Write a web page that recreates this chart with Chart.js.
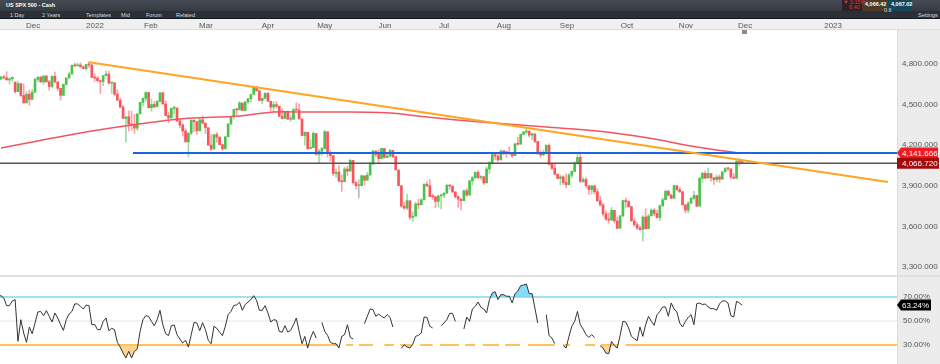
<!DOCTYPE html>
<html lang="en">
<head>
<meta charset="UTF-8" />
<title>US SPX 500 - Cash</title>
<script src="https://cdn.jsdelivr.net/npm/chart.js"></script>
<style>
    html, body { margin: 0; padding: 0; background: #fff; overflow: hidden; }
    body { width: 940px; height: 364px; position: relative; font-family: "Liberation Sans", Arial, sans-serif; }
    .box { position: absolute; }
    #chart { position: absolute; left: 0; top: 0; z-index: 2; }
    #tabs { left: 0; top: 0; width: 940px; height: 11px; background: linear-gradient(#454b54, #363b42); z-index: 3; }
    #tools { left: 0; top: 11px; width: 940px; height: 7px; background: #2b3036; z-index: 3; border-bottom: 1px solid #16191c; }
    #dateBand { left: 0; top: 19px; width: 940px; height: 10px; background: #f0f0f0; border-bottom: 1px solid #dcdcdc; }
    #rightPanel { left: 897px; top: 30px; width: 43px; height: 334px; background: #ececec; border-left: 1px solid #dcdcdc; box-sizing: border-box; }
    #paneLine { left: 0; top: 275px; width: 940px; height: 2px; background: #e0e0e0; }
    .t { position: absolute; font-size: 5.5px; line-height: 7px; color: #d4dae0; white-space: nowrap; z-index: 4; }
    #homeMark { left: 742px; top: 30px; width: 5px; height: 4px; background: #8b8b8b; z-index: 3; }
</style>
</head>
<body>
    <div class="box" id="tabs"></div>
    <div class="box" id="tools"></div>
    <div class="box" id="dateBand"></div>
    <div class="box" id="rightPanel"></div>
    <div class="box" id="paneLine"></div>
    <div class="box" id="homeMark"></div>

    <span class="t" style="left:6px;top:2px;color:#fff;font-weight:bold;">US SPX 500 - Cash</span>
    <span class="t" style="left:10px;top:11.5px;">1 Day</span>
    <span class="t" style="left:42px;top:11.5px;">2 Years</span>
    <span class="t" style="left:86px;top:11.5px;">Templates</span>
    <span class="t" style="left:121px;top:11.5px;">Mid</span>
    <span class="t" style="left:146px;top:11.5px;">Forum</span>
    <span class="t" style="left:176px;top:11.5px;">Related</span>
    <span class="box" style="left:842px;top:0;width:20px;height:11px;background:#2c2226;z-index:3;"></span>
    <span class="t" style="left:843px;top:0;color:#e2333b;line-height:5px;">▼ 0.15%<br>&nbsp;&nbsp;&nbsp;&nbsp;6.40</span>
    <span class="box" style="left:862px;top:0;width:26px;height:11px;background:#4c3a26;z-index:3;"></span>
    <span class="t" style="left:865px;top:1px;color:#fff;font-weight:bold;">4,066.42</span>
    <span class="box" style="left:888px;top:0;width:24px;height:11px;background:#174656;z-index:3;"></span>
    <span class="t" style="left:891px;top:1px;color:#fff;font-weight:bold;">4,067.02</span>
    <span class="t" style="left:884px;top:7px;">0.6</span>
    <span class="t" style="left:918px;top:11.5px;">Settings</span>

    <canvas id="chart" width="940" height="364"></canvas>

    <script>
        // daily candles, one row per month (Nov 2021 to Dec 2022)
        const opens = [
            4680,4688,4704,4698,4682,4690,4664,4595,4655,
            4567,4513,4577,4538,4591,4686,4701,4667,4712,4668,4634,4709,4668,4620,4568,4649,4696,4725,4791,4786,4793,4778,
            4766,4796,4793,4700,4696,4677,4670,4713,4726,4659,4662,4577,4532,4482,4398,4410,4356,4350,4326,4431,
            4516,4546,4589,4477,4501,4484,4522,4587,4504,4419,4401,4472,4475,4380,4349,4305,4225,4289,4385,
            4374,4306,4387,4363,4329,4201,4171,4278,4260,4204,4173,4262,4357,4412,4463,4461,4512,4456,4520,4543,4575,4632,4602,
            4530,4546,4583,4525,4481,4500,4488,4413,4397,4447,4392,4392,4462,4459,4394,4272,4296,4175,4183,4287,
            4132,4155,4175,4300,4147,4123,3991,4001,3935,3930,4024,4008,4088,3923,3901,3901,3974,3941,3979,4058,4158,
            4132,4101,4176,4109,4121,4161,4116,4018,3901,3750,3735,3790,3667,3675,3765,3760,3796,3912,3900,3821,3819,
            3785,3825,3831,3845,3903,3899,3855,3819,3802,3790,3863,3831,3937,3960,3999,3961,3967,3921,4024,4072,
            4130,4119,4091,4155,4152,4145,4140,4122,4210,4207,4280,4297,4305,4274,4284,4228,4138,4128,4141,4199,4058,4030,3986,
            3955,3966,3924,3908,3979,4006,4067,4110,3932,3946,3901,3873,3899,3856,3789,3758,3693,3655,3647,3719,3641,
            3586,3678,3791,3783,3745,3640,3612,3589,3577,3669,3583,3677,3720,3695,3666,3752,3797,3859,3830,3807,3901,
            3872,3856,3760,3720,3771,3807,3828,3749,3956,3992,3957,3991,3959,3946,3965,3949,4003,4027,4026,3964,3957,
            4080,4076
        ];
        const closes = [
            4688,4704,4698,4682,4690,4701,4595,4655,4567,
            4513,4577,4538,4591,4686,4701,4667,4712,4668,4634,4709,4668,4620,4568,4649,4696,4725,4791,4786,4793,4778,4766,
            4796,4793,4700,4696,4677,4670,4713,4726,4659,4662,4577,4532,4482,4398,4410,4356,4350,4326,4431,4516,
            4546,4589,4477,4501,4484,4522,4587,4504,4419,4401,4472,4475,4380,4349,4305,4225,4289,4385,4374,
            4306,4387,4363,4329,4201,4171,4278,4260,4204,4173,4262,4357,4412,4463,4461,4512,4456,4520,4543,4575,4632,4602,4530,
            4546,4583,4525,4481,4500,4488,4413,4397,4447,4392,4392,4462,4459,4394,4272,4296,4175,4183,4287,4132,
            4155,4175,4300,4147,4123,3991,4001,3935,3930,4024,4008,4088,3923,3901,3901,3974,3941,3979,4058,4158,4132,
            4101,4176,4109,4121,4161,4116,4018,3901,3750,3735,3790,3667,3675,3765,3760,3796,3912,3900,3821,3819,3785,
            3825,3831,3845,3903,3899,3855,3819,3802,3790,3863,3831,3937,3960,3999,3961,3967,3921,4024,4072,4130,
            4119,4091,4155,4152,4145,4140,4122,4210,4207,4280,4297,4305,4274,4284,4228,4138,4128,4141,4199,4058,4030,3986,3955,
            3966,3924,3908,3979,4006,4067,4110,3932,3946,3901,3873,3899,3856,3789,3758,3693,3655,3647,3719,3641,3586,
            3678,3791,3783,3745,3640,3612,3589,3577,3669,3583,3677,3720,3695,3666,3752,3797,3859,3830,3807,3901,3872,
            3856,3760,3720,3771,3807,3828,3749,3956,3992,3957,3991,3959,3946,3965,3949,4003,4027,4026,3964,3957,4080,
            4076,4071
        ];
        const highs = [
            4702,4708,4717,4743,4701,4704,4670,4672,4646,
            4652,4596,4608,4612,4695,4708,4710,4713,4711,4679,4713,4741,4666,4620,4651,4701,4741,4791,4808,4805,4808,4787,
            4797,4818,4797,4726,4707,4674,4715,4749,4745,4666,4632,4611,4548,4495,4414,4454,4453,4428,4432,4517,
            4550,4596,4590,4540,4522,4531,4590,4589,4527,4445,4473,4490,4475,4394,4363,4323,4290,4385,4385,
            4374,4401,4416,4364,4329,4276,4278,4294,4259,4208,4263,4358,4413,4465,4471,4522,4500,4521,4547,4576,4638,4627,4603,
            4549,4588,4590,4522,4522,4522,4488,4471,4450,4453,4420,4471,4513,4506,4370,4299,4278,4240,4300,4270,
            4169,4185,4308,4270,4159,4082,4026,4050,3980,4039,4048,4095,4078,3932,3944,3982,3971,3999,4076,4159,4150,
            4167,4178,4143,4144,4169,4160,4060,4000,3812,3778,3838,3785,3707,3780,3802,3806,3914,3932,3944,3839,3820,
            3830,3840,3850,3910,3907,3888,3855,3829,3802,3870,3880,3939,3970,4003,4013,3975,3970,4040,4078,4140,
            4145,4130,4167,4161,4152,4187,4133,4211,4258,4281,4303,4326,4302,4291,4276,4180,4160,4165,4204,4210,4060,4060,3985,
            3980,3975,3990,3990,4012,4077,4135,4149,3960,3960,3880,3900,3905,3880,3820,3770,3715,3700,3740,3700,3670,
            3680,3795,3810,3790,3750,3660,3630,3600,3680,3730,3690,3730,3730,3720,3760,3810,3870,3870,3840,3905,3900,
            3890,3860,3755,3785,3815,3860,3830,3960,4000,4010,4030,3980,3960,3980,3980,4005,4035,4035,4010,3990,4095,
            4100,4078
        ];
        const lows = [
            4682,4682,4688,4681,4652,4670,4585,4637,4560,
            4510,4511,4495,4546,4591,4670,4667,4650,4666,4606,4624,4660,4600,4532,4570,4645,4700,4733,4780,4788,4775,4765,
            4755,4775,4700,4671,4666,4582,4640,4714,4650,4582,4565,4530,4475,4396,4222,4305,4309,4287,4309,4431,
            4490,4525,4474,4451,4475,4485,4522,4505,4417,4365,4415,4430,4372,4327,4267,4222,4114,4278,4300,
            4279,4306,4356,4285,4199,4157,4205,4221,4201,4161,4179,4307,4352,4393,4427,4470,4455,4470,4508,4518,4590,4599,4530,
            4507,4547,4521,4456,4450,4474,4411,4395,4400,4390,4377,4391,4459,4394,4269,4200,4170,4175,4181,4128,
            4063,4124,4175,4112,4081,3975,3964,3928,3859,3964,3976,4032,3912,3877,3810,3900,3907,3943,3980,4074,4116,
            4074,4106,4107,4108,4110,4108,4018,3900,3740,3728,3724,3650,3636,3686,3730,3763,3798,3894,3820,3800,3738,
            3745,3730,3810,3845,3875,3850,3810,3740,3722,3820,3825,3860,3905,3950,3950,3945,3910,3925,3990,4060,
            4095,4080,4092,4130,4110,4130,4110,4150,4200,4220,4275,4285,4260,4240,4218,4130,4110,4120,4150,4055,4020,3980,3950,
            3905,3910,3885,3945,3960,4005,4060,3925,3925,3885,3837,3840,3840,3785,3750,3675,3645,3625,3640,3625,3585,
            3585,3670,3740,3745,3640,3600,3575,3570,3491,3580,3610,3680,3680,3660,3640,3750,3795,3825,3805,3810,3865,
            3850,3755,3700,3700,3770,3800,3745,3750,3925,3950,3960,3935,3910,3930,3925,3950,4005,4010,3955,3950,3950,
            4050,4066
        ];

        // RSI per bar, null where the line is broken in the picture
        const rsi = [
            71,71.1,69.2,62.8,62.8,66.7,67.8,33.1,51.1,40,
            32.2,45,39.4,48.3,57.5,58,54.4,58.6,53.9,49.2,
            56.7,52.5,46.9,42.2,51.1,55.8,58,64.2,64.2,62.2,
            60,63.3,62.8,46.9,47.2,42.8,42.8,49.7,52.5,41.9,
            43.9,42.8,32.2,28.3,23.3,19.2,24.7,19.2,24.7,26.7,
            41.4,51.1,54.4,53.9,49.7,46.1,51.1,58.9,46.9,39.4,
            37.8,46.1,46.7,38.6,35,31.7,33.9,28.3,38.6,48.9,
            48.3,41.9,48.6,42.8,33.9,31.1,45.6,43.9,40.6,37.8,
            45.6,55.3,58,63,63.3,65.6,58.9,63.6,65.8,67.8,
            71.1,67.2,58.9,58.9,62.8,56.7,49.2,51.1,50.6,41.4,
            40.6,46.1,40.8,42.2,46.9,52.5,41.4,31.1,37.2,27.5,
            35.8,41.4,35.8,null,48.9,41.4,38.1,32.2,31.1,31.1,
            27.5,37.2,38.6,46.9,36.4,35,null,null,null,47.8,
            53.9,60,59.4,53.9,55.8,53.9,52.5,55.3,53,45,
            null,null,27.2,30.3,28.3,27.5,30.6,37.2,38.1,40,
            53.3,53,45.6,44.2,null,null,46.1,48.3,51.1,56.4,
            56.4,49.7,null,null,43.3,53.3,49.7,60,62.2,65.8,
            61.4,60,56.7,67.8,73.3,74.4,67.8,71.9,71.9,70.6,
            70.6,65,72.8,75,79.4,80,80.8,72.8,72.8,60.8,
            48.3,null,null,55.3,37.8,35.8,31.1,null,null,29.4,
            27.5,37.2,45.6,49.7,58,46.9,43.3,38.6,36.4,38.6,
            36.4,null,29.4,27.5,23.3,22.8,33,29.4,27.5,37.8,
            49.7,49.2,44.2,37.2,35.3,33.6,45,37.2,46.9,53.9,
            49.7,46.4,55.3,58,61.7,61.7,53.9,65,60,57.5,
            48.3,45,49.7,53,55.3,46.9,64.4,65,63.6,64.2,
            61.7,60.3,60.3,58.9,64.2,66.7,66.7,65,54.4,53.3,
            66.4,65,63.24
        ];

        // long moving average, read at a few bars
        const maBars = [1, 29, 47, 64, 85, 97, 109, 120, 138, 151, 170, 193, 211, 229, 246, 261];
        const maValues = [4179, 4290, 4349, 4394, 4416, 4445, 4445, 4445, 4438, 4408, 4371, 4334, 4305, 4253, 4187, 4142];

        // drawn lines
        const trendBars = [32, 313.3];
        const trendValues = [4812, 3928];
        const supportBars = [47.5, 316.5];
        const supportValue = 4141.666;
        const lastPrice = 4066.72;
        const lastRsi = 63.24;

        // 30% band is only partly visible in the picture
        const dashStart = [0.7, 122.5, 127, 136, 141.5, 148.6, 155.6, 164.4, 170.7, 178.5, 186.6, 198.9, 206.6, 212.3, 221];
        const dashEnd = [119.7, 125, 132, 139.4, 146, 153, 162.3, 168, 176.4, 183.8, 196, 201.4, 210.2, 218.3, 316.5];

        const monthLabels = ["Dec", "2022", "Feb", "Mar", "Apr", "May", "Jun", "Jul", "Aug", "Sep", "Oct", "Nov", "Dec", "2023"];
        const monthBars = [12.3, 34.1, 53.8, 73.2, 95, 115, 136.2, 157, 178.1, 200.3, 221.4, 242.2, 263, 294];
        const priceTicks = [3300, 3600, 3900, 4200, 4500, 4800];
        const rsiTicks = [30, 50, 70];

        const GREEN = "#4cc24c";
        const RED = "#f9565c";
        const GREEN_WICK = "rgba(76,194,76,0.55)";
        const RED_WICK = "rgba(249,86,92,0.55)";
        const xMin = 0.67, xMax = 316.5;

        const barColors = closes.map((c, i) => c === opens[i] ? "#999" : (c > opens[i] ? GREEN : RED));
        const wickColors = closes.map((c, i) => c === opens[i] ? "#bbb" : (c > opens[i] ? GREEN_WICK : RED_WICK));
        const wickData = lows.map((l, i) => ({ x: i, y: [l, highs[i]] }));
        const bodyData = opens.map((o, i) => ({ x: i, y: [o, closes[i]] }));
        const rsiData = rsi.map((v, i) => ({ x: i, y: v }));
        const maData = maBars.map((b, i) => ({ x: b, y: maValues[i] }));
        const trendData = trendBars.map((b, i) => ({ x: b, y: trendValues[i] }));

        // segments with a null between them so the line breaks
        const dashData = [];
        dashStart.forEach((s, i) => {
            dashData.push({ x: s, y: 30 }, { x: dashEnd[i], y: 30 }, { x: dashEnd[i], y: null });
        });

        function flatLine(from, to, y, color, width, axis, order) {
            return {
                type: "line", yAxisID: axis, order: order,
                data: [{ x: from, y: y }, { x: to, y: y }],
                borderColor: color, borderWidth: width, pointRadius: 0
            };
        }

        function priceTag(ctx, y, right, bg, text, arrow) {
            const left = 897;
            ctx.fillStyle = bg;
            ctx.beginPath();
            ctx.moveTo(left + (arrow ? 4 : 0), y - 5.5);
            ctx.lineTo(right, y - 5.5);
            ctx.lineTo(right, y + 5.5);
            ctx.lineTo(left + (arrow ? 4 : 0), y + 5.5);
            if (arrow) ctx.lineTo(left, y);
            else ctx.lineTo(left, y - 5.5);
            ctx.closePath();
            ctx.fill();
            ctx.fillStyle = "#fff";
            ctx.font = '8px "Liberation Sans", Arial, sans-serif';
            ctx.textAlign = "left";
            ctx.textBaseline = "middle";
            ctx.fillText(text, left + 5, y + 0.5);
        }

        const tagsPlugin = {
            id: "tags",
            afterDraw(chart) {
                const ctx = chart.ctx;
                const y = chart.scales.y, r = chart.scales.yRsi;
                ctx.save();
                priceTag(ctx, y.getPixelForValue(supportValue), 938, "#f01c24", "4,141.666", true);
                priceTag(ctx, y.getPixelForValue(lastPrice), 939, "#a30b0b", "4,066.720", false);
                priceTag(ctx, r.getPixelForValue(lastRsi), 931, "#000", "63.24%", true);
                ctx.restore();
            }
        };

        // axis labels must not push the plot area in
        function noPadding(s) {
            s.paddingLeft = 0;
            s.paddingRight = 0;
            s.paddingTop = 0;
            s.paddingBottom = 0;
        }

        new Chart(document.getElementById("chart"), {
            data: {
                datasets: [
                    { type: "line", yAxisID: "y", order: 1, data: trendData, borderColor: "#ffa51f", borderWidth: 2, pointRadius: 0 },
                    { type: "line", yAxisID: "y", order: 2, data: [{ x: supportBars[0], y: supportValue }, { x: supportBars[1], y: supportValue }], borderColor: "#1c63e2", borderWidth: 2, pointRadius: 0 },
                    { type: "line", yAxisID: "y", order: 3, data: maData, borderColor: "#f2555f", borderWidth: 1.5, pointRadius: 0, tension: 0.3 },
                    flatLine(xMin, xMax, lastPrice, "#555", 1.5, "y", 4),
                    { type: "bar", yAxisID: "y", order: 5, data: bodyData, backgroundColor: barColors, barThickness: 2, grouped: false, minBarLength: 1 },
                    { type: "bar", yAxisID: "y", order: 6, data: wickData, backgroundColor: wickColors, barThickness: 1, grouped: false },

                    { type: "line", yAxisID: "yRsi", order: 1, data: rsiData, borderColor: "#333", borderWidth: 1, pointRadius: 0, spanGaps: false },
                    { type: "line", yAxisID: "yRsi", order: 7, data: rsiData, borderWidth: 0, pointRadius: 0, spanGaps: false,
                        fill: { target: { value: 70 }, above: "#86dcf8", below: "rgba(0,0,0,0)" } },
                    { type: "line", yAxisID: "yRsi", order: 7, data: rsiData, borderWidth: 0, pointRadius: 0, spanGaps: false,
                        fill: { target: { value: 30 }, above: "rgba(0,0,0,0)", below: "#ffd591" } },
                    flatLine(xMin, xMax, 70, "#7fd6ee", 1.5, "yRsi", 6),
                    flatLine(xMin, xMax, 50, "#e4e4e4", 1, "yRsi", 8),
                    { type: "line", yAxisID: "yRsi", order: 5, data: dashData, borderColor: "#ffc35e", borderWidth: 2, pointRadius: 0, spanGaps: false }
                ]
            },
            options: {
                responsive: false,
                animation: false,
                layout: { autoPadding: false, padding: { top: 19, left: 0, right: 0, bottom: 0 } },
                plugins: { legend: { display: false }, tooltip: { enabled: false } },
                scales: {
                    x: {
                        type: "linear", position: "top", min: xMin, max: xMax, offset: false,
                        grid: { display: false, drawTicks: false }, border: { display: false },
                        afterBuildTicks: s => { s.ticks = monthBars.map(v => ({ value: v })); },
                        afterFit: s => { s.height = 11; noPadding(s); },
                        ticks: {
                            autoSkip: false, maxRotation: 0, padding: -1, color: "#555",
                            font: { size: 8, family: '"Liberation Sans", Arial, sans-serif' },
                            callback: v => monthLabels[monthBars.indexOf(v)]
                        }
                    },
                    y: {
                        type: "linear", position: "right", stack: "panes", stackWeight: 245,
                        min: 3241, max: 5051,
                        grid: { display: false, drawTicks: false }, border: { display: false },
                        afterBuildTicks: s => { s.ticks = priceTicks.map(v => ({ value: v })); },
                        afterFit: s => { s.width = 43; noPadding(s); },
                        ticks: {
                            padding: 5, color: "#555",
                            font: { size: 8, family: '"Liberation Sans", Arial, sans-serif' },
                            callback: v => v.toLocaleString("en-US", { minimumFractionDigits: 3 })
                        }
                    },
                    yRsi: {
                        type: "linear", position: "right", stack: "panes", stackWeight: 89,
                        min: 14.2, max: 88.3,
                        grid: { display: false, drawTicks: false }, border: { display: false },
                        afterBuildTicks: s => { s.ticks = rsiTicks.map(v => ({ value: v })); },
                        afterFit: s => { s.width = 43; noPadding(s); },
                        ticks: {
                            padding: 6, color: "#555",
                            font: { size: 8, family: '"Liberation Sans", Arial, sans-serif' },
                            callback: v => v.toFixed(2) + "%"
                        }
                    }
                }
            },
            plugins: [tagsPlugin]
        });
    </script>
</body>
</html>
